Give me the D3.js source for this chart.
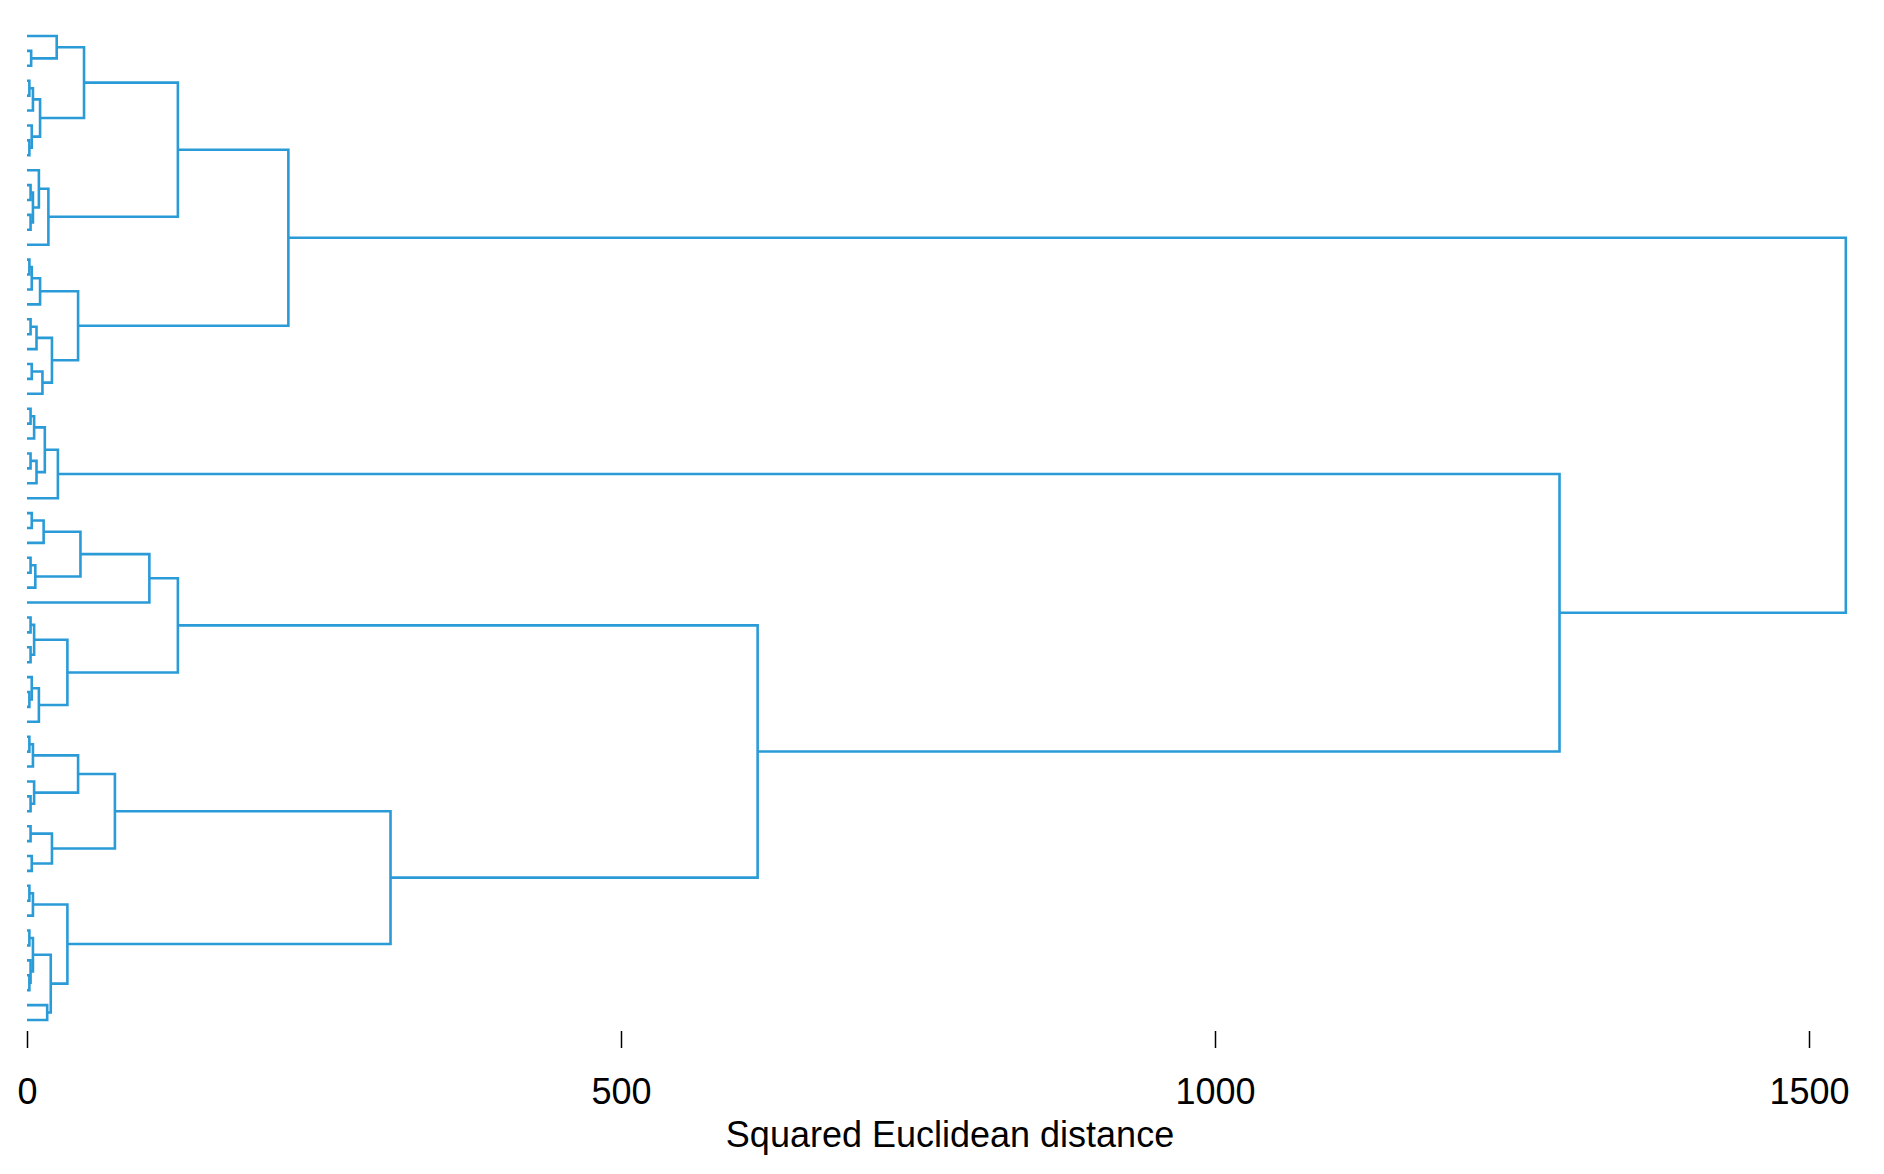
<!DOCTYPE html>
<html>
<head>
<meta charset="utf-8">
<script src="https://cdn.jsdelivr.net/npm/d3@7"></script>
<style>
  body { margin: 0; background: #fff; }
  text { font-family: "Liberation Sans", Arial, sans-serif; }
</style>
</head>
<body>
<svg id="chart" width="1884" height="1174"></svg>
<script>
// merge tree: [height, child, child], leaf = L
const L = null;
const clusterA = [220,
  [127,
    [48, [25, L, [3.5, L, L]], [11, [5, [2, L, L], L], [4, L, [2, L, L]]]],
    [18, [10, L, [5, [3, L, L], [3, L, L]]], L]],
  [43,
    [11, [4, [2, L, L], L], L],
    [21, [8, [3, L, L], L], [13, [4, L, L], L]]]];
const clusterB1 = [26, [15, [6, [3, L, L], L], [8, [3, L, L], L]], L];
const clusterB2 = [615,
  [127,
    [103, [45, [14, [4, L, L], L], [7, [3, L, L], L]], L],
    [34, [6, [3, L, L], [3, L, L]], [10, [4, L, [2, L, L]], L]]],
  [306,
    [74, [43, [5, [2, L, L], L], [6, L, [3, L, L]]], [21, [3, L, L], [4, L, L]]],
    [34, [5, [2, L, L], L], [20, [5, [2, L, L], [3, L, [2, L, L]]], [17, L, L]]]]];
const tree = [1531, clusterA, [1290, clusterB1, clusterB2]];

const xTicks = [0, 500, 1000, 1500];
const xTitle = "Squared Euclidean distance";

const svg = d3.select("#chart");
const color = "#2b9bd8";

const countLeaves = n => n === null ? 1 : countLeaves(n[1]) + countLeaves(n[2]);
const nLeaves = countLeaves(tree);

const x = d3.scaleLinear().domain([0, 1500]).range([27, 1809]);
const y = d3.scaleLinear().domain([0, nLeaves - 1]).range([36, 1020]);

const g = svg.append("g")
  .attr("fill", "none")
  .attr("stroke", color)
  .attr("stroke-width", 2.6);

let leafIndex = 0;
// returns [xPos, yPos] of the node
function draw(n) {
  if (n === null) {
    return [x(0), y(leafIndex++)];
  }
  const a = draw(n[1]), b = draw(n[2]);
  const xh = x(n[0]);
  g.append("path")
    .attr("d", `M${a[0]},${a[1]}H${xh}V${b[1]}H${b[0]}`);
  return [xh, (a[1] + b[1]) / 2];
}
draw(tree);

const axis = d3.axisBottom(x).tickValues(xTicks).tickSize(17).tickPadding(30).tickFormat(d3.format("d"));
const ax = svg.append("g").attr("transform", "translate(0,1031)").call(axis);
ax.select(".domain").remove();
ax.selectAll("line").attr("stroke", "#000").attr("stroke-width", 1.5);
ax.selectAll("text").attr("font-size", 36).attr("fill", "#000")
  .style("font-family", "'Liberation Sans', Arial, sans-serif");

svg.append("text")
  .attr("x", (x(0) + x(1500)) / 2 + 32)
  .attr("y", 1147)
  .attr("text-anchor", "middle")
  .attr("font-size", 36)
  .text(xTitle);
</script>
</body>
</html>
